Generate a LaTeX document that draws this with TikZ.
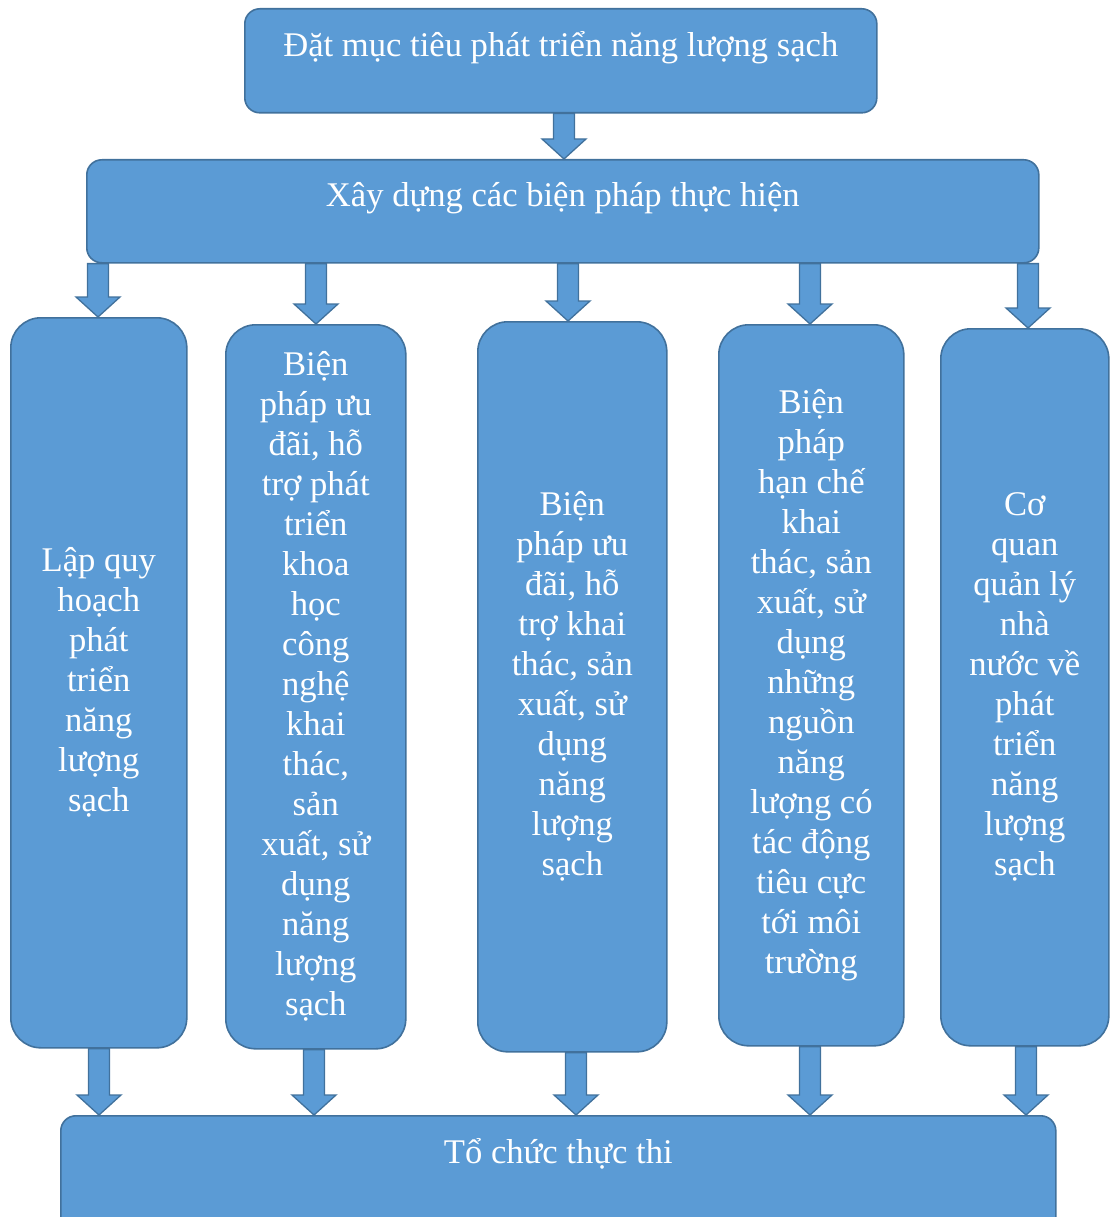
\documentclass[tikz,border=0pt]{standalone}
\usepackage{fontspec}
\setmainfont{Liberation Serif}
\usetikzlibrary{calc}
\definecolor{boxfill}{HTML}{5B9BD5}
\definecolor{boxline}{HTML}{41719C}
\newcommand\blkarrow[3]{%
  \draw[blk] let \p1=(#2), \p2=(#3) in
    (#1-10.5,\y1) -- (#1-10.5,\y2+20) -- (#1-22,\y2+20) -- (#1,\y2)
    -- (#1+22,\y2+20) -- (#1+10.5,\y2+20) -- (#1+10.5,\y1) -- cycle;}
\begin{document}
\begin{tikzpicture}[x=1pt,y=-1pt,
  txt/.style={text=white,font=\fontsize{34.6}{40}\selectfont,align=center},
  box/.style={txt,draw=boxline,fill=boxfill,line width=1.6pt,rounded corners=15pt,
    inner sep=0pt,anchor=north west},
  col/.style={box,rounded corners=30pt},
  lab/.style={txt,anchor=base,inner sep=0pt,yshift=-48pt},
  blk/.style={draw=boxline,fill=boxfill,line width=1.3pt,line join=miter}]
\useasboundingbox (0,0) rectangle (1110,1217);

\node[box,minimum width=632pt,minimum height=104pt,
  label={[lab,yshift=-1pt]north:Đặt mục tiêu phát triển năng lượng sạch}] (top) at (244,8) {};
\node[box,minimum width=952pt,minimum height=103pt,
  label={[lab]north:Xây dựng các biện pháp thực hiện}] (mid) at (86,159) {};

\node[col,minimum width=176pt,minimum height=730pt] (c1) at (10,317)
  {Lập quy\\hoạch\\phát\\triển\\năng\\lượng\\sạch};
\node[col,minimum width=180pt,minimum height=724pt] (c2) at (225,324)
  {Biện\\pháp ưu\\đãi, hỗ\\trợ phát\\triển\\khoa\\học\\công\\nghệ\\khai\\thác,\\sản\\xuất, sử\\dụng\\năng\\lượng\\sạch};
\node[col,minimum width=189pt,minimum height=730pt] (c3) at (477,321)
  {Biện\\pháp ưu\\đãi, hỗ\\trợ khai\\thác, sản\\xuất, sử\\dụng\\năng\\lượng\\sạch};
\node[col,minimum width=185pt,minimum height=721pt] (c4) at (718,324)
  {Biện\\pháp\\hạn chế\\khai\\thác, sản\\xuất, sử\\dụng\\những\\nguồn\\năng\\lượng có\\tác động\\tiêu cực\\tới môi\\trường};
\node[col,minimum width=168pt,minimum height=717pt] (c5) at (940,328)
  {Cơ\\quan\\quản lý\\nhà\\nước về\\phát\\triển\\năng\\lượng\\sạch};

\node[box,minimum width=995pt,minimum height=130pt,
  label={[lab]north:Tổ chức thực thi}] (bot) at (60,1115) {};

\blkarrow{564}{top.south}{mid.north}
\blkarrow{98}{mid.south}{c1.north}
\blkarrow{316}{mid.south}{c2.north}
\blkarrow{568}{mid.south}{c3.north}
\blkarrow{810}{mid.south}{c4.north}
\blkarrow{1028}{mid.south}{c5.north}
\blkarrow{99}{c1.south}{bot.north}
\blkarrow{314}{c2.south}{bot.north}
\blkarrow{576}{c3.south}{bot.north}
\blkarrow{810}{c4.south}{bot.north}
\blkarrow{1026}{c5.south}{bot.north}
\end{tikzpicture}
\end{document}
